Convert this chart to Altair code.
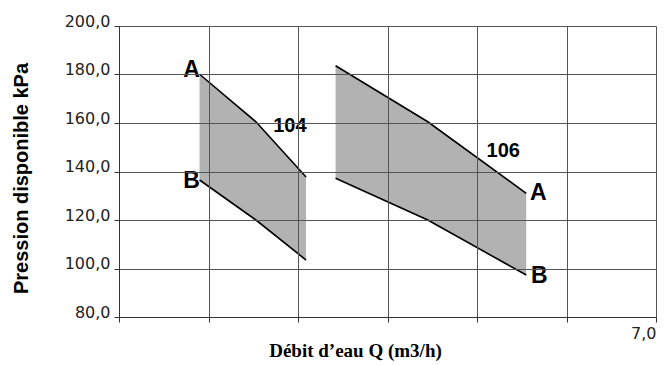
import altair as alt
import pandas as pd

# Pump curves: flow (m3/h) and available pressure (kPa) at max (A) and min (B) settings
pumps = ["104", "106"]
q_104 = [1.90, 2.53, 3.09]
a_104 = [180.1, 160.5, 137.7]
b_104 = [136.5, 120.0, 103.5]
q_106 = [3.42, 4.45, 5.55]
a_106 = [183.6, 160.5, 131.0]
b_106 = [137.2, 120.0, 97.3]

y_ticks = [80, 100, 120, 140, 160, 180, 200]
x_ticks = [1, 2, 3, 4, 5, 6, 7]

rows = []
for pump, qs, As, Bs in [("104", q_104, a_104, b_104), ("106", q_106, a_106, b_106)]:
    for q, a, b in zip(qs, As, Bs):
        rows.append({"pump": pump, "q": q, "A": a, "B": b})
band = pd.DataFrame(rows)
lines = band.melt(id_vars=["pump", "q"], value_vars=["A", "B"], var_name="curve", value_name="p")

x_scale = alt.Scale(domain=[1, 7], nice=False, zero=False)
y_scale = alt.Scale(domain=[80, 200], nice=False, zero=False)

# Axes (and their grids) are drawn above the shaded bands
x_axis = alt.Axis(
    values=x_ticks, grid=True, gridColor="#555555", gridWidth=1, zindex=1,
    labelExpr="datum.value == 7 ? '7,0' : ''",
    labelFont="DejaVu Sans", labelFontSize=16, labelColor="#222222",
    labelPadding=3, tickSize=5, tickColor="#333333", domainColor="#333333",
    title="Débit d’eau Q (m3/h)", titleFont="Liberation Serif", titleFontSize=19,
    titleFontWeight="bold", titleColor="#000000", titleX=236, titleY=39,
    titleAlign="center", titleBaseline="alphabetic",
)
y_axis = alt.Axis(
    values=y_ticks, grid=True, gridColor="#555555", gridWidth=1, zindex=1,
    labelExpr="replace(format(datum.value, '.1f'), '.', ',')",
    labelFont="DejaVu Sans", labelFontSize=16, labelColor="#222222",
    labelBaseline="alphabetic", labelPadding=4, tickSize=5,
    tickColor="#333333", domainColor="#333333",
    title="Pression disponible kPa", titleFont="Liberation Sans", titleFontSize=20,
    titleFontWeight="bold", titleColor="#000000", titleAngle=-90,
    titleX=-98, titleY=152, titleAlign="center", titleBaseline="middle",
)

area = alt.Chart(band).mark_area(color="#b2b2b2", opacity=1).encode(
    x=alt.X("q:Q", scale=x_scale, axis=x_axis),
    y=alt.Y("A:Q", scale=y_scale, axis=y_axis, stack=None),
    y2=alt.Y2("B:Q"),
    detail="pump:N",
)

curve_lines = alt.Chart(lines).mark_line(color="#000000", strokeWidth=1.6).encode(
    x=alt.X("q:Q", scale=x_scale),
    y=alt.Y("p:Q", scale=y_scale),
    detail=["pump:N", "curve:N"],
    order="q:Q",
)


def label(pump, curve, idx, text, dx, dy, size):
    qs = q_104 if pump == "104" else q_106
    vals = {("104", "A"): a_104, ("104", "B"): b_104,
            ("106", "A"): a_106, ("106", "B"): b_106}[(pump, curve)]
    df = pd.DataFrame({"q": [qs[idx]], "p": [vals[idx]], "t": [text]})
    return alt.Chart(df).mark_text(
        font="Liberation Sans", fontWeight="bold", fontSize=size, color="#000000",
        align="center", baseline="middle", dx=dx, dy=dy,
    ).encode(
        x=alt.X("q:Q", scale=x_scale),
        y=alt.Y("p:Q", scale=y_scale),
        text="t:N",
    )


labels = [
    label("104", "A", 0, "A", -8, -4, 23),
    label("104", "B", 0, "B", -8, 1, 23),
    label("104", "A", 1, "104", 34, 4, 20),
    label("106", "A", 2, "106", -23, -42, 20),
    label("106", "A", 2, "A", 12, 0, 23),
    label("106", "B", 2, "B", 13, 1, 23),
]

chart = alt.layer(area, curve_lines, *labels).properties(
    width=537, height=291,
    autosize=alt.AutoSizeParams(type="none"),
    padding={"left": 119, "top": 26, "right": 13, "bottom": 48},
    background="#ffffff",
).configure_view(stroke=None)

chart.save("out.html", embed_options={"renderer": "svg", "actions": False})
